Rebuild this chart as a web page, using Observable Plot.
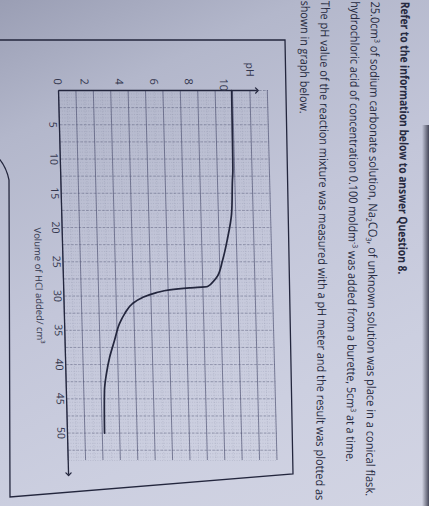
<!DOCTYPE html>
<html><head><meta charset="utf-8">
<script src="https://cdn.jsdelivr.net/npm/d3@7"></script>
<script src="https://cdn.jsdelivr.net/npm/@observablehq/plot@0.6"></script>
<style>
html,body{margin:0;padding:0;width:429px;height:506px;overflow:hidden;}
body{position:relative;background:linear-gradient(155deg,#9a9eb4 0%,#b3b7cb 20%,#c3c6d9 48%,#cccfe0 75%,#d2d4e3 100%);font-family:"Open Sans",sans-serif;}
#page{position:absolute;left:0;top:0;width:506px;height:429px;transform-origin:0 0;transform:translate(429px,0) rotate(90deg);}
#deco{position:absolute;left:0;top:0;overflow:visible;}
#chart{position:absolute;left:30px;top:120px;transform-origin:60px 250px;transform:skewY(-1.5deg);}
#chart svg{overflow:visible;}
#edge{position:absolute;right:0;top:125px;width:7px;height:381px;background:linear-gradient(90deg,rgba(60,62,82,0),rgba(48,50,68,0.85));}
</style></head>
<body>
<div id="page"><svg id="deco" width="506" height="429"></svg><div id="chart"></div></div>
<div id="edge"></div>
<script>
// ---- data ----
const volume = [0, 5, 11.7, 13.1, 18, 21.6, 24.8, 27.3, 28, 28.6, 28.8, 29.1, 29.5, 30.2, 31.1, 32.6, 34, 36.5, 39, 41.3, 43.8, 50];
const pH     = [9.95, 9.93, 9.9, 9.86, 9.76, 9.49, 9.17, 8.8, 8.56, 8.27, 7.23, 6.08, 5.33, 4.52, 3.93, 3.46, 3.16, 2.84, 2.53, 2.33, 2.19, 2.13];
const pHTicks = [0, 2, 4, 6, 8, 10];
const volTicks = [5, 10, 15, 20, 25, 30, 35, 40, 45, 50];
const pHLabel = "pH";
const volLabel = "Volume of HCl added/ cm³";
const questionLines = [
  "Refer to the information below to answer Question 8.",
  "25.0cm^{3} of sodium carbonate solution, Na_{2}CO_{3}, of unknown solution was place in a conical flask.",
  "hydrochloric acid of concentration 0.100 moldm^{-3} was added from a burette, 5cm^{3} at a time.",
  "The pH value of the reaction mixture was measured with a pH meter and the result was plotted as",
  "shown in graph below."
];

// ---- styling / layout ----
const ink = "#23263d";
const gridInk = "#4c5070";
const lineLayout = [
  {v: 24, u0: 2, len: 273, bold: true},
  {v: 54, u0: 2, len: 495},
  {v: 74, u0: 2, len: 461},
  {v: 104, u0: 2, len: 500},
  {v: 124, u0: 2, len: 113}
];

// question text (page decoration)
const deco = d3.select("#deco");
const tg = deco.append("g").attr("transform", "rotate(0.6)");
questionLines.forEach((s, i) => {
  const L = lineLayout[i];
  const t = tg.append("text")
    .attr("font-family", "Open Sans").attr("font-size", 12)
    .attr("font-weight", L.bold ? 700 : 400).attr("fill", "#272a40");
  const parts = s.split(/(\^\{[^}]*\}|_\{[^}]*\})/).filter(p => p.length);
  let shift = 0;
  parts.forEach(p => {
    const ts = t.append("tspan");
    if (p.startsWith("^{")) { ts.text(p.slice(2, -1)).attr("font-size", 7.5).attr("dy", -4 - shift); shift = -4; }
    else if (p.startsWith("_{")) { ts.text(p.slice(2, -1)).attr("font-size", 7.5).attr("dy", 2.5 - shift); shift = 2.5; }
    else { ts.text(p).attr("dy", -shift); shift = 0; }
  });
  const w = t.node().getComputedTextLength();
  t.attr("transform", `translate(${L.u0},${L.v + 4}) scale(${L.len / w},1)`);
});
// frame round the graph
deco.append("path")
  .attr("d", "M40,144 L474,136 L497,419 L180,420 Q160,424 150,440 L40,440 Z")
  .attr("fill", "none").attr("stroke", ink).attr("stroke-width", 1.3);

// ---- chart (drawn unrotated, page is rotated) ----
const minorVol = d3.range(0, 54.001, 0.5);
const minorPH = d3.range(0, 12.001, 0.5);
const volGrid = d3.range(0, 54.001, 2.5);
const pHGrid = d3.range(0, 12.001, 1);
const pHAxisMax = 11.4, volAxisMax = 56;
const axes = [
  {x1: 0, y1: 0, x2: 0, y2: pHAxisMax},
  {x1: 0, y1: 0, x2: volAxisMax, y2: 0}
];
const curve = volume.map((v, i) => ({v, p: pH[i]}));

const chart = Plot.plot({
  width: 460, height: 300,
  marginLeft: 60, marginRight: 30, marginTop: 41.2, marginBottom: 50,
  x: {domain: [0, 54], axis: null},
  y: {domain: [0, 12], axis: null},
  style: {background: "transparent", fontFamily: "Open Sans", color: ink, overflow: "visible"},
  marks: [
    Plot.ruleX(minorVol, {y1: 0, y2: 12, stroke: gridInk, strokeOpacity: 0.35, strokeWidth: 0.5, strokeDasharray: "0.8,1.6"}),
    Plot.ruleY(minorPH, {x1: 0, x2: 54, stroke: gridInk, strokeOpacity: 0.35, strokeWidth: 0.5, strokeDasharray: "0.8,1.6"}),
    Plot.ruleX(volGrid, {y1: 0, y2: 12, stroke: gridInk, strokeOpacity: 0.6, strokeWidth: 0.7, strokeDasharray: "2.5,1.5"}),
    Plot.ruleY(pHGrid, {x1: 0, x2: 54, stroke: gridInk, strokeOpacity: 0.8, strokeWidth: 0.8}),
    Plot.link(axes, {x1: "x1", y1: "y1", x2: "x2", y2: "y2", stroke: ink, strokeWidth: 1.3, markerEnd: "arrow"}),
    Plot.line(curve, {x: "v", y: "p", curve: "monotone-x", stroke: ink, strokeWidth: 1.7}),
    Plot.text(pHTicks.filter(d => d > 0), {y: d => d, frameAnchor: "left", dx: -12, dy: 9, fontSize: 11, fill: "#34374e"}),
    Plot.text(pHTicks.filter(d => d === 0), {y: d => d, frameAnchor: "left", dx: -12, dy: 1, fontSize: 11, fill: "#34374e"}),
    Plot.text(volTicks, {x: d => d, frameAnchor: "bottom", dy: 10, fontSize: 10.5, fill: "#34374e"}),
    Plot.text([pHLabel], {frameAnchor: "top-left", dx: -28, dy: 13, fontSize: 10.5, fill: "#34374e"}),
    Plot.text([volLabel], {frameAnchor: "bottom", dx: 10, dy: 28, fontSize: 9.5, fill: "#34374e"})
  ]
});
document.getElementById("chart").appendChild(chart);
</script>
</body></html>
